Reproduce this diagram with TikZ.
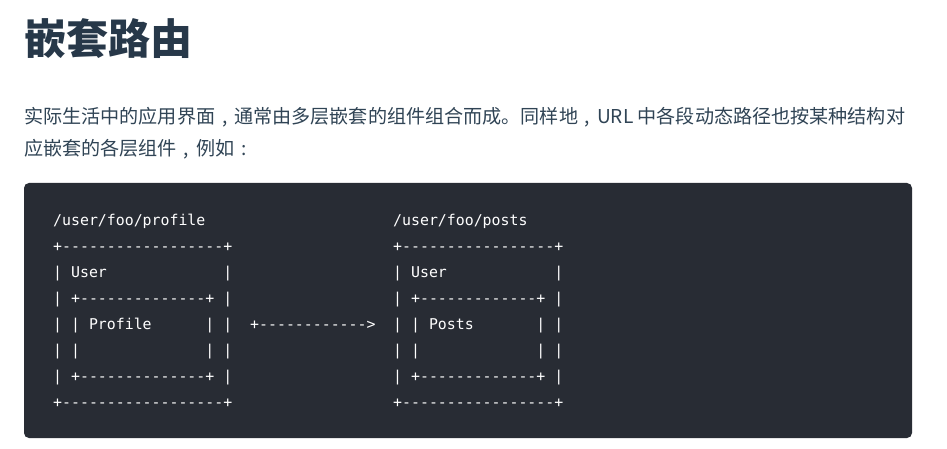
\documentclass[tikz,border=0pt]{standalone}
\usepackage{fontspec}
\usepackage{xcolor}
\usepackage{tikz}
\usetikzlibrary{positioning}
\newfontfamily\cjk{Noto Sans CJK SC}
\setmonofont{DejaVu Sans Mono}
\definecolor{headcolor}{HTML}{273849}
\definecolor{bodycolor}{HTML}{304455}
\definecolor{codebg}{HTML}{282C34}
% centred full-width comma and colon
\newcommand\zhcomma{\makebox[1em][c]{,}}
\newcommand\zhcolon{\makebox[1em][c]{:}}

\begin{document}
\begin{tikzpicture}[
    x=1pt, y=-1pt,
    heading/.style={anchor=west, inner sep=0pt, text=headcolor, font=\cjk\bfseries\fontsize{42}{42}\selectfont},
    intro/.style={anchor=west, inner sep=0pt, text=bodycolor, font=\cjk\fontsize{19.1}{24}\selectfont},
    code/.style={anchor=base west, inner sep=0pt, text=white, font=\ttfamily\fontsize{14.87}{18}\selectfont},
    block/.style={fill=codebg, rounded corners=5pt}
]
    \fill[white] (0,0) rectangle (947,449);
    \useasboundingbox (0,0) rectangle (947,449);

    \node[heading] (title) at (24,38.5) {嵌套路由};
    \node[intro] (intro1) at (24,117) {实际生活中的应用界面\zhcomma 通常由多层嵌套的组件组合而成。同样地\zhcomma URL 中各段动态路径也按某种结构对};
    \node[intro] (intro2) at (24,149) {应嵌套的各层组件\zhcomma 例如\zhcolon};

    \fill[block] (24,183) rectangle (912,438);

    % left column
    \node[code] (l0) at (53,225.5) {/user/foo/profile};
    \node[code] (l1) at (53,251.5) {+------------------+};
    \node[code] (l2) at (53,277.5) {|~User~~~~~~~~~~~~~|};
    \node[code] (l3) at (53,303.5) {|~+--------------+~|};
    \node[code] (l4) at (53,329.5) {|~|~Profile~~~~~~|~|};
    \node[code] (l5) at (53,355.5) {|~|~~~~~~~~~~~~~~|~|};
    \node[code] (l6) at (53,381.5) {|~+--------------+~|};
    \node[code] (l7) at (53,407.5) {+------------------+};

    % arrow between
    \node[code] (a4) at (250,329.5) {+------------>};

    % right column
    \node[code] (r0) at (393,225.5) {/user/foo/posts};
    \node[code] (r1) at (393,251.5) {+-----------------+};
    \node[code] (r2) at (393,277.5) {|~User~~~~~~~~~~~~|};
    \node[code] (r3) at (393,303.5) {|~+-------------+~|};
    \node[code] (r4) at (393,329.5) {|~|~Posts~~~~~~~|~|};
    \node[code] (r5) at (393,355.5) {|~|~~~~~~~~~~~~~|~|};
    \node[code] (r6) at (393,381.5) {|~+-------------+~|};
    \node[code] (r7) at (393,407.5) {+-----------------+};
\end{tikzpicture}
\end{document}
